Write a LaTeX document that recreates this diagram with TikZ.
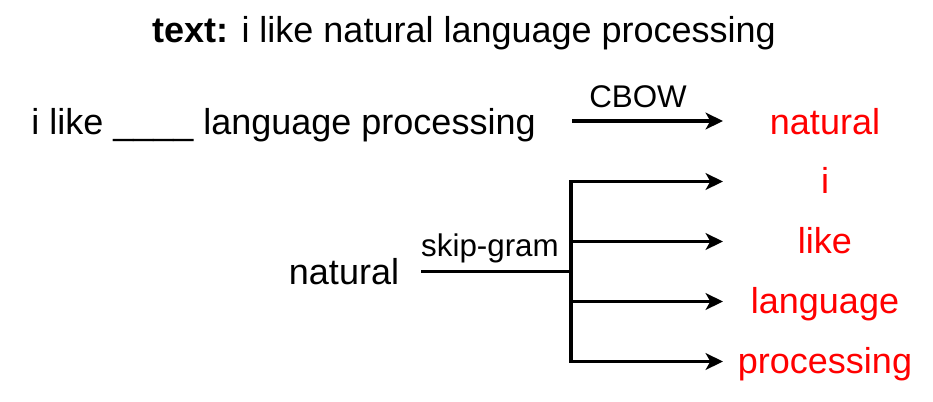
\documentclass[tikz,border=0pt]{standalone}
\usepackage{fontspec}
\setmainfont{Liberation Sans}
\usetikzlibrary{arrows.meta}
\begin{document}
\begin{tikzpicture}[x=0.75pt,y=-0.75pt,
  txt/.style={anchor=base,inner sep=0pt,font=\fontsize{27}{32}\selectfont},
  lbl/.style={anchor=base,inner sep=0pt,font=\fontsize{23.5}{28}\selectfont},
  red/.style={text=red},
  conn/.style={line width=2.4pt,line join=miter},
  arr/.style={conn,-{Stealth[length=13pt,width=12.5pt,inset=3.5pt]}}]
\useasboundingbox (0,0) rectangle (933,401);
% title
\node[txt] (title) at (464,42) {\textbf{text:} i like natural language processing};
% CBOW
\node[txt] (sent) at (283.5,134) {i like \_\_\_\_ language processing};
\node[txt,red] (tnat) at (825,134) {natural};
\coordinate (cs) at (572,121);
\coordinate (ce) at (723,121);
\draw[arr] (cs) -- (ce);
\node[lbl] (cbow) at (638,107) {CBOW};
% skip-gram
\node[txt] (src) at (344,284) {natural};
\node[lbl] (sg) at (490,256) {skip-gram};
\coordinate (s0) at (421,271.5);
\coordinate (j) at (571,271.5);
\coordinate (e1) at (723,181.5);
\coordinate (e2) at (723,241.5);
\coordinate (e3) at (723,301.5);
\coordinate (e4) at (723,361.5);
\node[txt,red] (o1) at (825,193) {i};
\node[txt,red] (o2) at (825,253) {like};
\node[txt,red] (o3) at (825,313) {language};
\node[txt,red] (o4) at (825,373) {processing};
\draw[conn] (s0) -- (j);
\draw[arr] (j) |- (e1);
\draw[arr] (j |- e2) -- (e2);
\draw[arr] (j |- e3) -- (e3);
\draw[arr] (j) |- (e4);
\end{tikzpicture}
\end{document}
